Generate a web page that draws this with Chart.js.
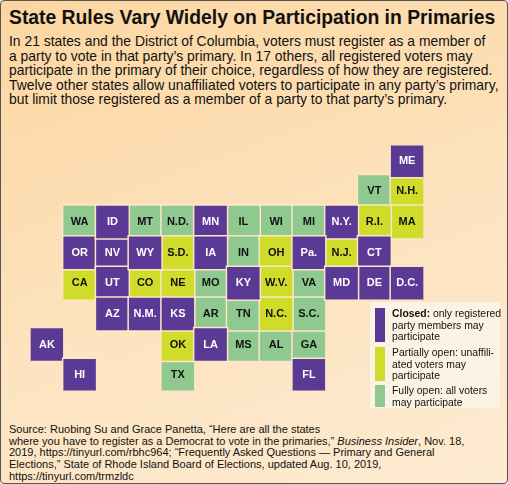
<!DOCTYPE html>
<html><head><meta charset="utf-8">
<script src="https://cdn.jsdelivr.net/npm/chart.js@4"></script>
<style>
html,body{margin:0;padding:0}
body{width:508px;height:484px;position:relative;overflow:hidden;font-family:"Liberation Sans",Arial,sans-serif;}
#frame{position:absolute;left:0;top:0;width:506px;height:482px;border:1px solid #555;border-radius:4px;background:linear-gradient(160deg,#fcd6a0 0%,#fde3bf 55%,#fdebd2 100%);}
#title{position:absolute;left:9px;top:5px;font-weight:bold;font-size:21px;color:#111;transform:scaleX(0.92);transform-origin:0 0;white-space:nowrap}
#intro{position:absolute;left:9px;top:34px;width:495px;font-size:13.9px;line-height:14.6px;color:#111;white-space:nowrap}
#wrap{position:absolute;left:5px;top:120px;width:444px;height:296px}
#legend{position:absolute;left:370px;top:302px;width:130px;height:106px;background:#fdf3e4;font-size:10.4px;line-height:11.6px;color:#111;white-space:nowrap}
.it{position:absolute;left:5px;display:flex}
.sw{width:10px;margin-right:7px;flex:none}
#src{position:absolute;left:9px;top:424px;width:495px;font-size:11px;line-height:11.7px;color:#111;white-space:nowrap}
</style></head><body>
<div id="frame"></div>
<div id="title">State Rules Vary Widely on Participation in Primaries</div>
<div id="intro">In 21 states and the District of Columbia, voters must register as a member of<br>a party to vote in that party’s primary. In 17 others, all registered voters may<br>participate in the primary of their choice, regardless of how they are registered.<br>Twelve other states allow unaffiliated voters to participate in any party’s primary,<br>but limit those registered as a member of a party to that party’s primary.</div>
<div id="wrap"><canvas id="c"></canvas></div>
<div id="legend">
 <div class="it" style="top:6px"><div class="sw" style="height:34px;background:#5b3a96"></div><div><b>Closed:</b> only registered<br>party members may<br>participate</div></div>
 <div class="it" style="top:45px"><div class="sw" style="height:34px;background:#cfdc2a"></div><div>Partially open: unaffili-<br>ated voters may<br>participate</div></div>
 <div class="it" style="top:83px"><div class="sw" style="height:22px;background:#8fc98f"></div><div>Fully open: all voters<br>may participate</div></div>
</div>
<div id="src">Source: Ruobing Su and Grace Panetta, “Here are all the states<br>where you have to register as a Democrat to vote in the primaries,” <i>Business Insider</i>, Nov. 18,<br>2019, https://tinyurl.com/rbhc964; “Frequently Asked Questions — Primary and General<br>Elections,” State of Rhode Island Board of Elections, updated Aug. 10, 2019,<br>https://tinyurl.com/trmzldc</div>
<script>
const closedStates=["OR","NV","ID","UT","AZ","WY","N.M.","KS","MN","IA","LA","FL","KY","N.Y.","Pa.","ME","CT","DE","MD","D.C.","AK","HI"];
const partialStates=["CA","CO","NE","S.D.","OK","OH","W.V.","N.C.","N.H.","MA","R.I.","N.J."];
const openStates=["WA","MT","N.D.","WI","MI","IL","IN","MO","AR","TX","MS","AL","GA","TN","VA","VT","S.C."];
// tile-grid cell [column,row] for each state
const tileCol={ME:11,VT:10,"N.H.":11,WA:1,ID:2,MT:3,"N.D.":4,MN:5,IL:6,WI:7,MI:8,"N.Y.":9,"R.I.":10,MA:11,OR:1,NV:2,WY:3,"S.D.":4,IA:5,IN:6,OH:7,"Pa.":8,"N.J.":9,CT:10,CA:1,UT:2,CO:3,NE:4,MO:5,KY:6,"W.V.":7,VA:8,MD:9,DE:10,"D.C.":11,AZ:2,"N.M.":3,KS:4,AR:5,TN:6,"N.C.":7,"S.C.":8,OK:4,LA:5,MS:6,AL:7,GA:8,TX:4,FL:8,AK:0,HI:1};
const tileRow={ME:0,VT:1,"N.H.":1,WA:2,ID:2,MT:2,"N.D.":2,MN:2,IL:2,WI:2,MI:2,"N.Y.":2,"R.I.":2,MA:2,OR:3,NV:3,WY:3,"S.D.":3,IA:3,IN:3,OH:3,"Pa.":3,"N.J.":3,CT:3,CA:4,UT:4,CO:4,NE:4,MO:4,KY:4,"W.V.":4,VA:4,MD:4,DE:4,"D.C.":4,AZ:5,"N.M.":5,KS:5,AR:5,TN:5,"N.C.":5,"S.C.":5,OK:6,LA:6,MS:6,AL:6,GA:6,TX:7,FL:7,AK:6,HI:7};
const colors=["#5b3a96","#cfdc2a","#8fc98f"];
const textColors=["#fff","#111","#111"];
const groups=[closedStates,partialStates,openStates];
const datasets=groups.map((g,i)=>({data:g.map(s=>({x:tileCol[s],y:tileRow[s],s})),backgroundColor:colors[i],borderColor:"#fde6c6",borderWidth:1.5,pointStyle:"rect",pointRadius:24,pointHoverRadius:24,txt:textColors[i]}));
const labelPlugin={id:"lbl",afterDatasetsDraw(ch){const ctx=ch.ctx;ctx.save();ctx.font="bold 11px 'Liberation Sans',Arial";ctx.textAlign="center";ctx.textBaseline="middle";
 ch.data.datasets.forEach((d,i)=>{ch.getDatasetMeta(i).data.forEach((p,j)=>{ctx.fillStyle=d.txt;ctx.fillText(d.data[j].s,p.x,p.y);});});ctx.restore();}};
new Chart(document.getElementById("c"),{type:"scatter",data:{datasets},plugins:[labelPlugin],
options:{responsive:true,maintainAspectRatio:false,animation:false,layout:{padding:0},
plugins:{legend:{display:false},tooltip:{enabled:false}},
scales:{x:{type:"linear",min:-0.5,max:11.5,display:false},y:{type:"linear",min:-0.5,max:7.5,reverse:true,display:false}}}});
</script>
</body></html>
